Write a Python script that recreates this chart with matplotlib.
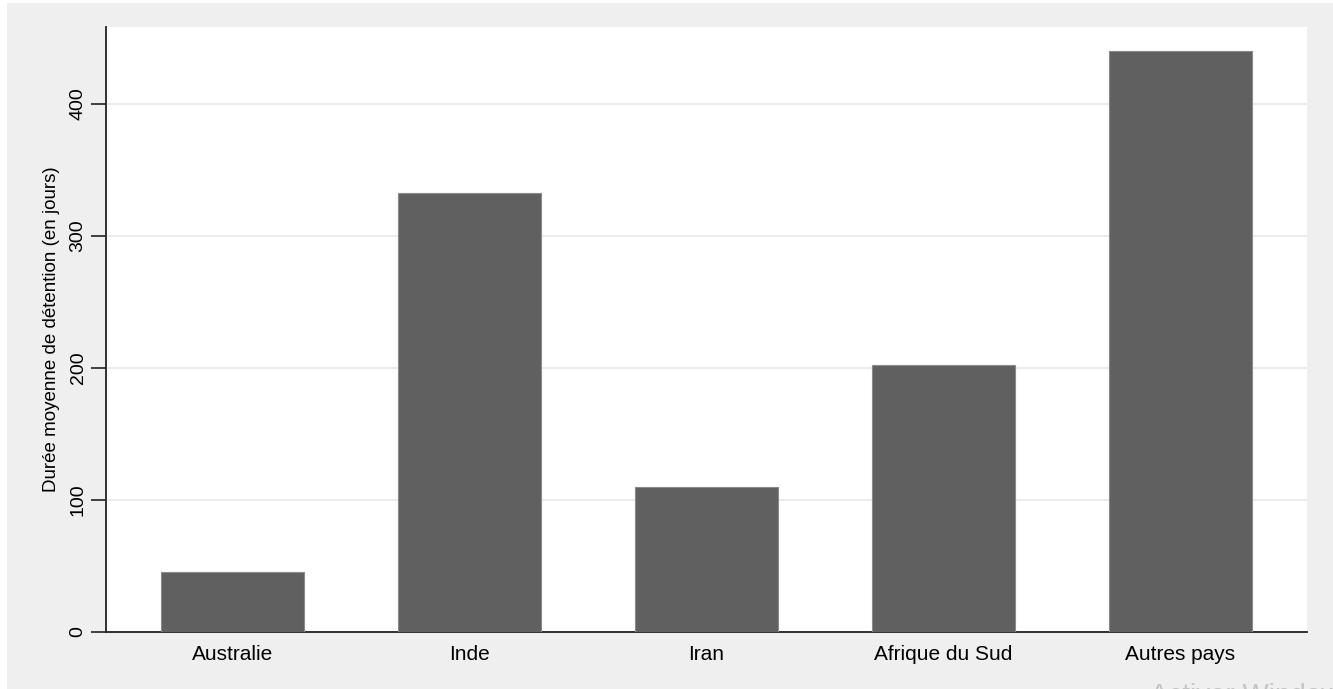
import matplotlib
matplotlib.use("Agg")
import matplotlib.pyplot as plt
from matplotlib.patches import Rectangle

categories = ["Australie", "Inde", "Iran", "Afrique du Sud", "Autres pays"]
values = [45.5, 332.5, 109.8, 202.0, 440.0]
yticks = [0, 100, 200, 300, 400]
ylabel = "Durée moyenne de détention (en jours)"

plt.rcParams['font.family'] = ['Liberation Sans', 'DejaVu Sans']

W, H = 1333, 689
fig = plt.figure(figsize=(W / 100, H / 100), dpi=100)
fig.patch.set_facecolor('white')
fig.patches.append(Rectangle((7 / W, 0), 1 - 7 / W, (H - 3) / H,
                             transform=fig.transFigure, facecolor='#efefef',
                             edgecolor='none', zorder=-10))

ax = fig.add_axes([106 / W, (H - 632) / H, (1307 - 106) / W, (632 - 27) / H])
ax.set_facecolor('white')

x = list(range(len(categories)))
ax.bar(x, values, width=0.6, color='#606060', edgecolor='#8a8a8a', linewidth=0.8, zorder=3)

ax.set_xlim(-0.534, 4.534)
ax.set_ylim(0, 458.3)
ax.set_yticks(yticks)
ax.set_yticklabels([str(v) for v in yticks], rotation=90, va='center', fontsize=14)
ax.set_xticks(x)
ax.set_xticklabels(categories, fontsize=15)
ax.tick_params(axis='x', length=0, pad=9)
ax.tick_params(axis='y', length=11, width=1.2, color='#222222', pad=3)
ax.yaxis.grid(True, color='#e8e8e8', linewidth=1.2, zorder=0)
ax.set_axisbelow(True)

for s in ['top', 'right']:
    ax.spines[s].set_visible(False)
for s in ['left', 'bottom']:
    ax.spines[s].set_color('#222222')
    ax.spines[s].set_linewidth(1.3)

ax.set_ylabel(ylabel, fontsize=13.5, labelpad=7)

fig.text(1150 / W, (H - 683) / H, "Activer Windows", fontsize=20, color='#c4c4c4',
         ha='left', va='top')

fig.savefig("out.png", dpi=100, facecolor=fig.get_facecolor())
